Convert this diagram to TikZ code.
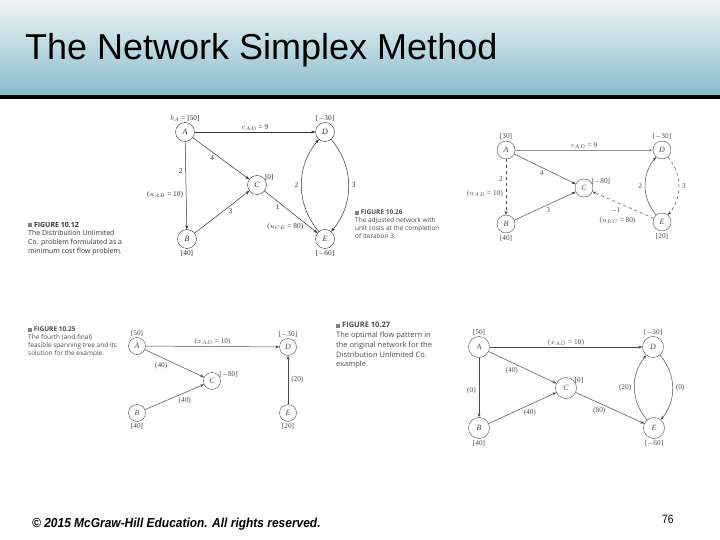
\documentclass[tikz,border=0pt]{standalone}
\usepackage{fontspec}
\setmainfont{Liberation Serif}
\setsansfont{Liberation Sans}
\newfontfamily\capfont{Open Sans}
\usetikzlibrary{arrows.meta,positioning}

\definecolor{titletop}{RGB}{238,245,247}
\definecolor{titlebot}{RGB}{137,188,202}
\colorlet{ink}{black!80}

\tikzset{
  vtx/.style={circle, draw=ink, text=ink, minimum size=#1, inner sep=0pt,
    font=\fontsize{8}{9}\selectfont\itshape},
  vtx/.default=19pt,
  arc/.style={-{Stealth[length=4pt,width=3pt]}, draw=ink, line width=0.5pt},
  lbl/.style={text=ink, inner sep=1pt, font=\fontsize{7.3}{8.5}\selectfont},
  figcap/.style={anchor=north west, align=left, text=ink, inner sep=0pt,
    font=\capfont\fontsize{7}{8.6}\selectfont},
}
\newcommand{\figmark}{\textcolor{gray}{\rule{4pt}{4pt}}\ }

\begin{document}
\begin{tikzpicture}[x=1pt,y=-1pt]
\useasboundingbox (0,0) rectangle (720,540);
\fill[white] (0,0) rectangle (720,540);

% title bar
\shade[top color=titletop, bottom color=titlebot] (0,0) rectangle (720,95);
\fill[black] (0,95) rectangle (720,99);
\node[anchor=base west, inner sep=0pt, font=\sffamily\fontsize{36}{40}\selectfont]
  (heading) at (25,60) {The Network Simplex Method};

% Figure 10.12
\begin{scope}
\colorlet{ink}{black!80}
\node[vtx] (A12) at (185,132) {A};
\node[vtx] (D12) at (325,132) {D};
\node[vtx] (C12) at (257,185) {C};
\node[vtx] (B12) at (187,239) {B};
\node[vtx] (E12) at (325,239) {E};
\node[lbl, above=0pt of A12] (sA12) {$b_A$ = [50]};
\node[lbl, above=0pt of D12] (sD12) {[$-$30]};
\node[lbl, above right=-4pt and 0pt of C12] (sC12) {[0]};
\node[lbl, below=1pt of B12] (sB12) {[40]};
\node[lbl, below=1pt of E12] (sE12) {[$-$60]};
\draw[arc] (A12) -- node[lbl, above] {$c_{AD}$ = 9} (D12);
\draw[arc] (A12) -- node[lbl, pos=0.34, left=2pt] {2}
  node[lbl, pos=0.61, left=2pt] {($u_{AB}$ = 10)} (B12);
\draw[arc] (A12) -- node[lbl, pos=0.4, below left=0pt] {4} (C12);
\draw[arc] (B12) -- node[lbl, pos=0.6, below right=0pt] {3} (C12);
\draw[arc] (C12) -- node[lbl, pos=0.3, below left=0pt] {1}
  node[lbl, pos=0.85, left=5pt] {($u_{CE}$ = 80)} (E12);
\draw[arc] (E12) to[bend left=40] node[lbl, left=2pt] {2} (D12);
\draw[arc] (D12) to[bend left=40] node[lbl, right=2pt] {3} (E12);
\node[figcap] (cap12) at (28,222) {\figmark\textbf{FIGURE 10.12}\\
  The Distribution Unlimited\\Co. problem formulated as a\\minimum cost flow problem.};
\end{scope}

% Figure 10.26
\begin{scope}
\colorlet{ink}{black!70}
\node[vtx=18pt] (A26) at (506,150) {A};
\node[vtx=18pt] (D26) at (662,150) {D};
\node[vtx=18pt] (C26) at (584,188) {C};
\node[vtx=18pt] (B26) at (506,224) {B};
\node[vtx=18pt] (E26) at (662,222) {E};
\node[lbl, above=0pt of A26] (sA26) {[30]};
\node[lbl, above=0pt of D26] (sD26) {[$-$30]};
\node[lbl, above right=-4pt and 0pt of C26] (sC26) {[$-$80]};
\node[lbl, below=1pt of B26] (sB26) {[40]};
\node[lbl, below=1pt of E26] (sE26) {[20]};
\draw[arc, draw=ink!60] (A26) -- node[lbl, above] {$c_{AD}$ = 9} (D26);
\draw[arc, dashed] (A26) -- node[lbl, pos=0.35, left=2pt] {2}
  node[lbl, pos=0.62, left=2pt] {($u_{AB}$ = 10)} (B26);
\draw[arc] (A26) -- node[lbl, pos=0.5, below left=0pt] {4} (C26);
\draw[arc] (B26) -- node[lbl, pos=0.5, below right=0pt] {3} (C26);
\draw[arc, dashed] (E26) -- node[lbl, pos=0.62, below=5pt] {$-$1}
  node[lbl, pos=0.08, below left=0pt and 12pt] {($u_{EC}$ = 80)} (C26);
\draw[arc] (E26) to[bend left=40] node[lbl, left=2pt] {2} (D26);
\draw[arc, dashed] (D26) to[bend left=40] node[lbl, right=2pt] {3} (E26);
\node[figcap, font=\capfont\fontsize{6.5}{7.8}\selectfont] (cap26) at (355,210)
  {\figmark\textbf{FIGURE 10.26}\\The adjusted network with\\unit costs at the completion\\of iteration 3.};
\end{scope}

% Figure 10.25
\begin{scope}
\colorlet{ink}{black!70}
\node[vtx=17pt] (A25) at (137,346) {A};
\node[vtx=17pt] (D25) at (288,347) {D};
\node[vtx=17pt] (C25) at (212,381) {C};
\node[vtx=17pt] (B25) at (137,413) {B};
\node[vtx=17pt] (E25) at (288,413) {E};
\node[lbl, above=0pt of A25] (sA25) {[50]};
\node[lbl, above=0pt of D25] (sD25) {[$-$30]};
\node[lbl, above right=-4pt and 0pt of C25] (sC25) {[$-$80]};
\node[lbl, below=1pt of B25] (sB25) {[40]};
\node[lbl, below=1pt of E25] (sE25) {[20]};
\draw[arc] (A25) -- node[lbl, above] {($x_{AD}$ = 10)} (D25);
\draw[arc] (A25) -- node[lbl, pos=0.4, below left=0pt] {(40)} (C25);
\draw[arc] (B25) -- node[lbl, pos=0.55, below right=0pt] {(40)} (C25);
\draw[arc] (E25) -- node[lbl, right=2pt] {(20)} (D25);
\node[figcap, font=\capfont\fontsize{6.5}{7.8}\selectfont] (cap25) at (28,327)
  {\figmark\textbf{FIGURE 10.25}\\The fourth (and final)\\feasible spanning tree and its\\solution for the example.};
\end{scope}

% Figure 10.27
\begin{scope}
\colorlet{ink}{black!70}
\node[vtx=21pt] (A27) at (479,347) {A};
\node[vtx=21pt] (D27) at (653,347) {D};
\node[vtx=21pt] (C27) at (566,388) {C};
\node[vtx=21pt] (B27) at (479,428) {B};
\node[vtx=21pt] (E27) at (654,428) {E};
\node[lbl, above=0pt of A27] (sA27) {[50]};
\node[lbl, above=0pt of D27] (sD27) {[$-$30]};
\node[lbl, above right=-4pt and 0pt of C27] (sC27) {[0]};
\node[lbl, below=1pt of B27] (sB27) {[40]};
\node[lbl, below=1pt of E27] (sE27) {[$-$60]};
\draw[arc] (A27) -- node[lbl, above] {($x_{AD}$ = 10)} (D27);
\draw[arc] (A27) -- node[lbl, pos=0.55, left=2pt] {(0)} (B27);
\draw[arc] (A27) -- node[lbl, pos=0.45, below left=0pt] {(40)} (C27);
\draw[arc] (B27) -- node[lbl, pos=0.5, below right=0pt] {(40)} (C27);
\draw[arc] (C27) -- node[lbl, pos=0.45, below left=0pt] {(80)} (E27);
\draw[arc] (E27) to[bend left=40] node[lbl, left=2pt] {(20)} (D27);
\draw[arc] (D27) to[bend left=40] node[lbl, right=2pt] {(0)} (E27);
\node[figcap, font=\capfont\fontsize{7.5}{9.8}\selectfont] (cap27) at (336,322)
  {\figmark\textbf{FIGURE 10.27}\\The optimal flow pattern in\\the original network for the\\Distribution Unlimited Co.\\example.};
\end{scope}

% footer
\node[anchor=base west, inner sep=0pt, xscale=0.92,
  font=\sffamily\bfseries\itshape\fontsize{13}{15}\selectfont]
  (copyright) at (32,527) {\textcopyright\ 2015 McGraw-Hill Education. All rights reserved.};
\node[anchor=base west, inner sep=0pt, xscale=0.85,
  font=\sffamily\fontsize{12}{14}\selectfont] (pageno) at (662,523) {76};
\end{tikzpicture}
\end{document}
